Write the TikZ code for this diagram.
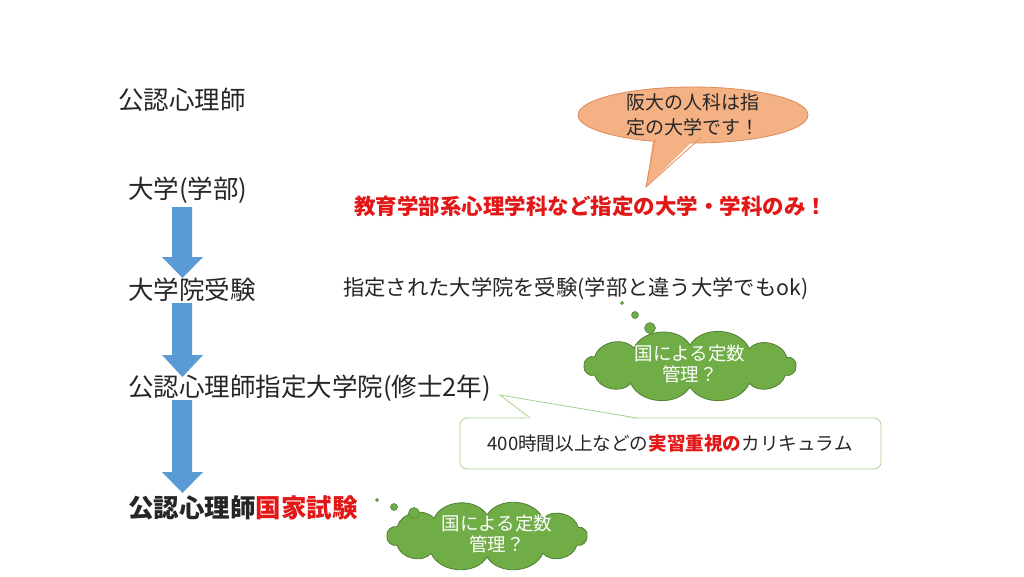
\documentclass[tikz,border=0pt]{standalone}
\usepackage{fontspec}
\setmainfont{Noto Sans CJK JP}
\usetikzlibrary{shapes.geometric}
\definecolor{arrowblue}{HTML}{5B9BD5}
\definecolor{cloudgreen}{HTML}{70AD47}
\definecolor{cloudedge}{HTML}{507E32}
\definecolor{salmon}{HTML}{F4B183}
\definecolor{salmonedge}{HTML}{E08A5A}
\definecolor{callgreen}{HTML}{A9D18E}
\definecolor{hotred}{RGB}{226,24,24}
\definecolor{ink}{HTML}{262626}
\newcommand\thinkcloud[4]{%
  \filldraw[thought] ({#1+#3},{#2})
  \foreach \a in {26,56,90,124,154,180,206,238,270,304,336,360} {
    to[bend left=62] ({#1+#3*cos(\a)},{#2+#4*sin(\a)})
  } -- cycle;}
\begin{document}
\begin{tikzpicture}[x=1pt,y=-1pt,
  lbl/.style={anchor=west,inner sep=0pt,text=ink,font=\fontsize{25.5}{30}\selectfont},
  body/.style={anchor=west,inner sep=0pt,text=ink,font=\fontsize{21.3}{25}\selectfont},
  blockarrow/.style={fill=arrowblue},
  thought/.style={fill=cloudgreen,draw=cloudedge,line width=0.8pt,line join=round},
  thoughttxt/.style={text=white,align=center,font=\fontsize{18.5}{21}\selectfont,inner sep=0pt},
  dot/.style={fill=cloudgreen,draw=cloudedge,line width=0.5pt},
  bubbletxt/.style={text=ink,align=center,font=\fontsize{19}{25}\selectfont,inner sep=0pt}
]
\useasboundingbox (0,0) rectangle (1024,576);
\fill[white] (0,0) rectangle (1024,576);

% main labels
\node[lbl] (title) at (118,100) {公認心理師};
\node[lbl] (univ) at (128,190) {大学(学部)};
\node[lbl] (exam) at (128,290) {大学院受験};
\node[lbl] (grad) at (128,388) {公認心理師指定大学院(修士2年)};
\node[lbl,font=\fontsize{25.5}{30}\selectfont\bfseries] (nat) at (128,508) {公認心理師\textcolor{hotred}{国家試験}};

% block arrows
\fill[blockarrow] (172,207) -- (192,207) -- (192,257) -- (203,257) -- (182.5,278) -- (162,257) -- (172,257) -- cycle;
\fill[blockarrow] (172,303) -- (192,303) -- (192,355) -- (203,355) -- (182.5,377) -- (162,355) -- (172,355) -- cycle;
\fill[blockarrow] (172,400) -- (192,400) -- (192,472) -- (203,472) -- (182.5,493) -- (162,472) -- (172,472) -- cycle;

% red statement
\node[anchor=west,inner sep=0pt,text=hotred,font=\fontsize{21.5}{26}\selectfont\bfseries] (only) at (354,206) {教育学部系心理学科など指定の大学・学科のみ！};

% speech bubble
\node[ellipse,fill=salmon,draw=salmonedge,line width=0.8pt,minimum width=230,minimum height=56,inner sep=0pt] (bub) at (693,115) {};
\coordinate (tip) at (646,187);
\fill[salmon] (654,134) -- (tip) -- (702,132) -- cycle;
\draw[salmonedge,line width=0.8pt] (655,139) -- (tip) -- (701,137.5);
\node[bubbletxt] (bubt) at (693,115) {阪大の人科は指\\定の大学です！};

% graduate exam note
\node[body] (note) at (343,289) {指定された大学院を受験(学部と違う大学でもok)};

% thought cloud 1
\thinkcloud{690}{366}{106}{21}
\node[thoughttxt] (c1t) at (690,364) {国による定数\\管理？};
\node[circle,dot,minimum size=3,inner sep=0pt] (d1a) at (622,303) {};
\node[circle,dot,minimum size=7,inner sep=0pt] (d1b) at (635,315) {};
\node[circle,dot,minimum size=11,inner sep=0pt] (d1c) at (650,328) {};

% thought cloud 2
\thinkcloud{487}{536}{100}{21}
\node[thoughttxt] (c2t) at (497,534) {国による定数\\管理？};
\node[circle,dot,minimum size=3,inner sep=0pt] (d2a) at (377,500) {};
\node[circle,dot,minimum size=7,inner sep=0pt] (d2b) at (394,507) {};
\node[circle,dot,minimum size=11,inner sep=0pt] (d2c) at (414,513) {};

% callout
\node[draw=callgreen,fill=white,rounded corners=7pt,line width=0.8pt,minimum width=421,minimum height=51,inner sep=0pt] (call) at (670.5,443.5) {};
\coordinate (ctip) at (500,395);
\fill[white] (529,419.5) -- (ctip) -- (638,419.5) -- cycle;
\draw[callgreen,line width=0.8pt] (530,418) -- (ctip) -- (637,418);
\node[anchor=center,inner sep=0pt,text=ink,font=\fontsize{18.6}{22}\selectfont] (callt) at (670,443) {400時間以上などの\textcolor{hotred}{\bfseries 実習重視の}カリキュラム};
\end{tikzpicture}
\end{document}
